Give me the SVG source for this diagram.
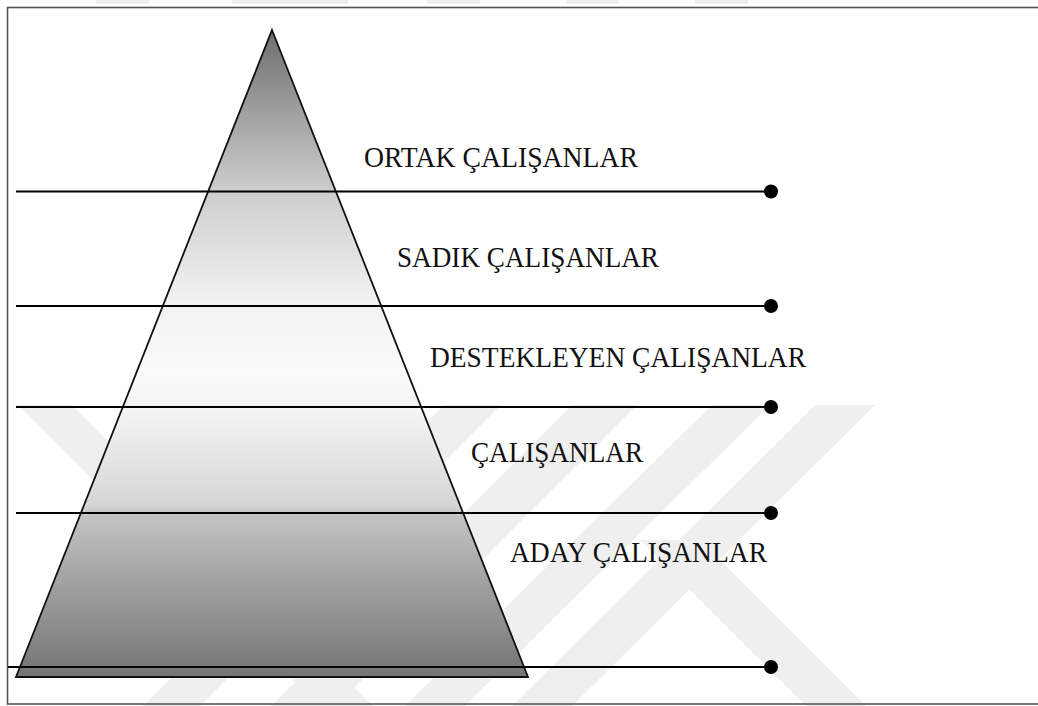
<svg xmlns="http://www.w3.org/2000/svg" width="1038" height="706" viewBox="0 0 1038 706">
  <style>
    .wm { fill: #efefef; }
    .lvl { stroke: #000; stroke-width: 2.2; fill: none; }
    .dot { fill: #000; }
    .lbl { font-family: "Liberation Serif", "Times New Roman", serif; font-size: 28.5px; fill: #111; }
  </style>
  <defs>
    <linearGradient id="pyr" x1="0" y1="0" x2="0" y2="1">
      <stop offset="0" stop-color="#6e6e6e"/>
      <stop offset="0.247" stop-color="#cdcdcd"/>
      <stop offset="0.417" stop-color="#f1f1f1"/>
      <stop offset="0.526" stop-color="#fbfbfb"/>
      <stop offset="0.583" stop-color="#f5f5f5"/>
      <stop offset="0.734" stop-color="#d6d6d6"/>
      <stop offset="0.750" stop-color="#c3c3c3"/>
      <stop offset="0.881" stop-color="#999999"/>
      <stop offset="1" stop-color="#747474"/>
    </linearGradient>
  </defs>

  <rect x="0" y="0" width="1038" height="706" fill="#fff"/>

  <g id="watermark">
    <rect class="wm" x="96" y="0" width="53" height="4"/>
    <rect class="wm" x="232" y="0" width="116" height="4"/>
    <rect class="wm" x="427" y="0" width="53" height="4"/>
    <rect class="wm" x="566" y="0" width="53" height="4"/>
    <rect class="wm" x="695" y="0" width="53" height="4"/>
    <polygon class="wm" points="444,405 501,405 200,706 143,706"/>
    <polygon class="wm" points="572,405 637,405 336,706 271,706"/>
    <polygon class="wm" points="712,405 770,405 465,706 405,706"/>
    <polygon class="wm" points="815,405 875,405 572,706 512,706"/>
    <polygon class="wm" points="18,405 72,405 373,706 319,706"/>
    <polygon class="wm" points="640,540 700,540 866,706 806,706"/>
  </g>

  <rect id="frame" x="7.5" y="7.5" width="1040" height="696.5" fill="none" stroke="#555" stroke-width="1.6"/>

  <g id="pyramid">
    <polygon points="272,30 528,677 16,677" fill="url(#pyr)" stroke="#111" stroke-width="1.8" stroke-linejoin="miter"/>
  </g>

  <g id="connectors">
    <line class="lvl" x1="16" y1="191.5" x2="771" y2="191.5"/>
    <line class="lvl" x1="16" y1="306" x2="771" y2="306"/>
    <line class="lvl" x1="16" y1="407" x2="771" y2="407"/>
    <line class="lvl" x1="16" y1="513" x2="771" y2="513"/>
    <line class="lvl" x1="8" y1="667" x2="771" y2="667"/>
    <circle class="dot" cx="771" cy="191.5" r="7"/>
    <circle class="dot" cx="771" cy="306" r="7"/>
    <circle class="dot" cx="771" cy="407" r="7"/>
    <circle class="dot" cx="771" cy="513" r="7"/>
    <circle class="dot" cx="771" cy="667" r="7"/>
  </g>

  <g id="label-ortak"><text class="lbl" x="364" y="167" textLength="274" lengthAdjust="spacingAndGlyphs">ORTAK ÇALIŞANLAR</text></g>
  <g id="label-sadik"><text class="lbl" x="397" y="267" textLength="262" lengthAdjust="spacingAndGlyphs">SADIK ÇALIŞANLAR</text></g>
  <g id="label-destekleyen"><text class="lbl" x="430" y="367" textLength="376" lengthAdjust="spacingAndGlyphs">DESTEKLEYEN ÇALIŞANLAR</text></g>
  <g id="label-calisanlar"><text class="lbl" x="471" y="462" textLength="172" lengthAdjust="spacingAndGlyphs">ÇALIŞANLAR</text></g>
  <g id="label-aday"><text class="lbl" x="510" y="562" textLength="257" lengthAdjust="spacingAndGlyphs">ADAY ÇALIŞANLAR</text></g>
</svg>
